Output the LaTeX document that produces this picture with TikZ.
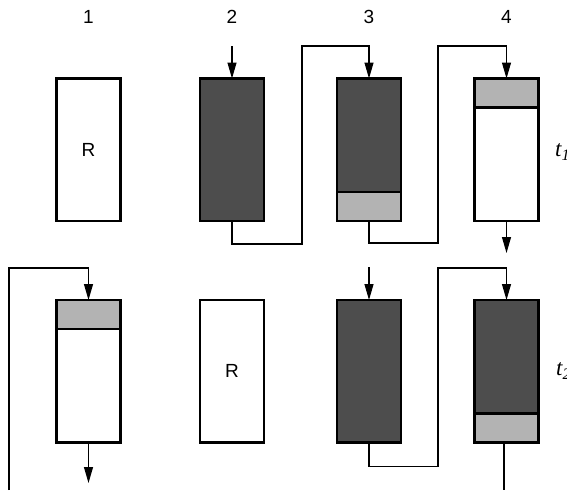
\documentclass[tikz,border=0pt]{standalone}
\usepackage{fontspec}
\setmainfont{Liberation Sans}
\newfontfamily\tfont{Liberation Serif}
\usetikzlibrary{arrows.meta}
\definecolor{darkfill}{HTML}{4D4D4D}
\definecolor{lightfill}{HTML}{B3B3B3}
\begin{document}
\begin{tikzpicture}[x=1pt,y=-1pt,
  col/.style={draw=black, line width=2.6pt, fill=white, minimum width=64pt, minimum height=142.5pt, inner sep=0pt, outer sep=0pt, anchor=north, font=\fontsize{19}{22}\selectfont},
  darkcol/.style={col, fill=darkfill},
  border/.style={draw=black, line width=2.6pt},
  conn/.style={line width=1.1pt},
  arr/.style={conn, -{Triangle[length=16pt,width=9pt]}},
  lab/.style={font=\fontsize{19}{22}\selectfont},
  tlab/.style={font=\fontsize{23}{26}\selectfont\tfont\itshape, anchor=west, inner sep=0pt}
]
\useasboundingbox (0,0) rectangle (567,490);

% column labels
\node[lab] (l1) at (88.5,17) {1};
\node[lab] (l2) at (232,17) {2};
\node[lab] (l3) at (369,17) {3};
\node[lab] (l4) at (506.5,17) {4};

% row 1
\node[col] (a1) at (88.5,78.5) {R};
\node[darkcol] (a2) at (232,78.5) {};
\node[darkcol] (a3) at (369,78.5) {};
\node[col] (a4) at (506.5,78.5) {};
\fill[lightfill] (a3.south west) rectangle ([yshift=29pt]a3.south east);
\draw[border] ([yshift=29pt]a3.south west) -- ([yshift=29pt]a3.south east);
\draw[border] (a3.south west) rectangle (a3.north east);
\fill[lightfill] (a4.north west) rectangle ([yshift=-29pt]a4.north east);
\draw[border] ([yshift=-29pt]a4.north west) -- ([yshift=-29pt]a4.north east);
\draw[border] (a4.south west) rectangle (a4.north east);

% row 2
\node[col] (b1) at (88.5,300) {};
\node[col] (b2) at (232,300) {R};
\node[darkcol] (b3) at (369,300) {};
\node[darkcol] (b4) at (506.5,300) {};
\fill[lightfill] (b1.north west) rectangle ([yshift=-29pt]b1.north east);
\draw[border] ([yshift=-29pt]b1.north west) -- ([yshift=-29pt]b1.north east);
\draw[border] (b1.south west) rectangle (b1.north east);
\fill[lightfill] (b4.south west) rectangle ([yshift=29pt]b4.south east);
\draw[border] ([yshift=29pt]b4.south west) -- ([yshift=29pt]b4.south east);
\draw[border] (b4.south west) rectangle (b4.north east);

% time labels (clipped by page edge)
\node[tlab] (t1) at (555,152) {t\textsubscript{1}};
\node[tlab] (t2) at (556,371) {t\textsubscript{2}};

% connectors row 1
\coordinate (in2) at (232,46);
\draw[arr] (in2) -- (a2.north);
\draw[arr] (a2.south) -- ++(0,23) -| (302,46) -| (a3.north);
\draw[arr] (a3.south) -- ++(0,22) -| (438,46) -| (a4.north);
\coordinate (out4) at (506.5,253);
\draw[arr] (a4.south) -- (out4);

% connectors row 2
\coordinate (loopstart) at (9,490);
\draw[arr] (loopstart) |- ([yshift=32pt]b1.north) -- (b1.north);
\coordinate (out1) at (88.5,483);
\draw[arr] (b1.south) -- (out1);
\coordinate (in3) at (369,267);
\draw[arr] (in3) -- (b3.north);
\draw[arr] (b3.south) -- ++(0,24) -| (438,268) -| (b4.north);
\coordinate (out4b) at (504,490);
\draw[conn] (b4.south -| out4b) -- (out4b);
\end{tikzpicture}
\end{document}
